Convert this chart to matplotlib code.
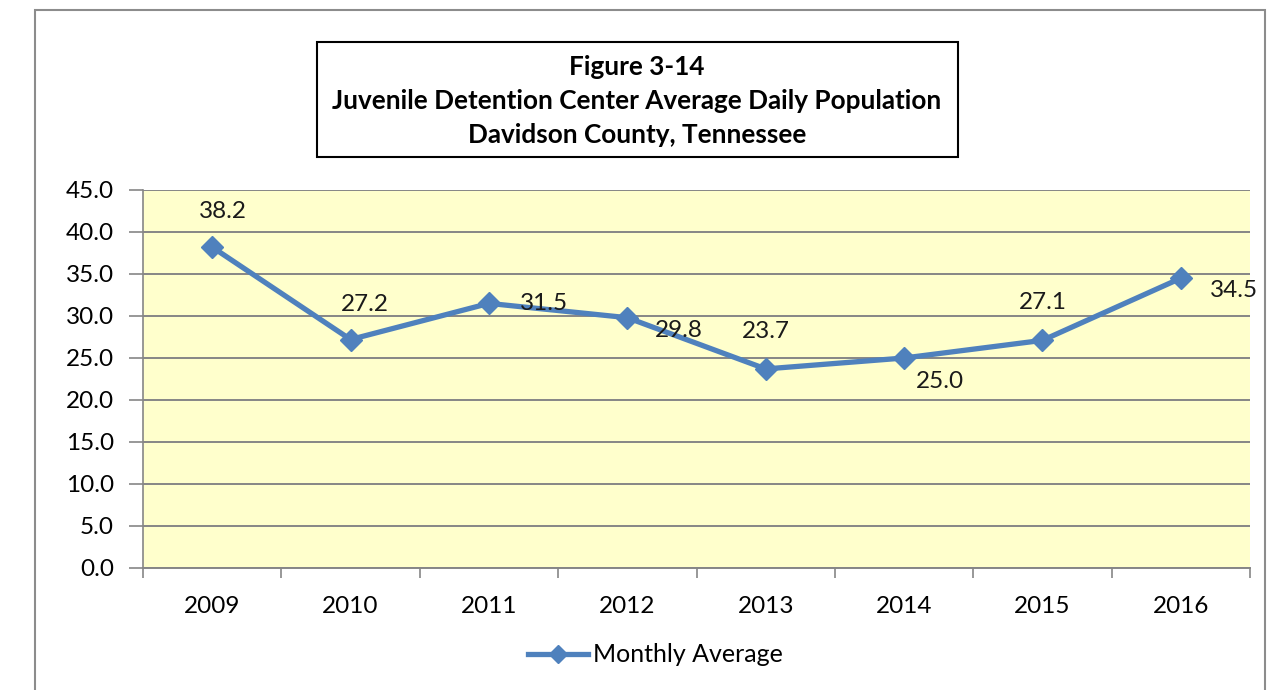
import numpy as np
import matplotlib.pyplot as plt
from matplotlib.patches import Rectangle
from matplotlib.lines import Line2D

years = ['2009', '2010', '2011', '2012', '2013', '2014', '2015', '2016']
monthly_avg = [38.2, 27.2, 31.5, 29.8, 23.7, 25.0, 27.1, 34.5]
# label offsets in points (dx, dy) for each value
label_offsets = [(8, 26), (10, 25), (40, 0), (37, -9), (0, 27), (26, -17), (0, 27), (38, -9)]

plt.rcParams['font.family'] = ['Lato', 'DejaVu Sans']

W, H = 1277, 690
fig = plt.figure(figsize=(W / 100, H / 100), dpi=100)

# outer chart frame (runs off the bottom of the page)
fig.patches.append(Rectangle((35 / W, -0.05), (1265 - 35) / W, 1 - 10 / H + 0.05,
                             transform=fig.transFigure, fill=False,
                             edgecolor='#8c8c8c', linewidth=1.5))

ax = fig.add_axes([143 / W, 1 - 568 / H, (1250 - 143) / W, (568 - 190) / H])
ax.set_facecolor('#ffffcc')

x = np.arange(len(years))
ax.plot(x, monthly_avg, color='#4f81bd', linewidth=3.8, marker='D',
        markersize=11, zorder=3, solid_capstyle='round')

for xi, v, (dx, dy) in zip(x, monthly_avg, label_offsets):
    ax.annotate(f'{v:.1f}', (xi, v), xytext=(dx, dy), textcoords='offset points',
                ha='center', va='center', fontsize=17.5, color='#1a1a1a')

ax.set_xlim(-0.5, len(years) - 0.5)
ax.set_ylim(0, 45)
ax.set_yticks(np.arange(0, 46, 5))
ax.set_yticklabels([f'{t:.1f}' for t in np.arange(0, 46, 5)])
ax.set_xticks(x)
ax.set_xticklabels(years)
ax.set_xticks(np.arange(-0.5, len(years)), minor=True)
ax.tick_params(axis='x', which='major', length=0, pad=20, labelsize=17.5)
ax.tick_params(axis='x', which='minor', length=7, width=1.2, color='#868686', direction='out')
ax.tick_params(axis='y', length=10, width=1.2, color='#868686', pad=11, labelsize=17.5)
ax.grid(axis='y', color='#868686', linewidth=1.4)
ax.set_axisbelow(True)
for side in ['top', 'right']:
    ax.spines[side].set_visible(False)
ax.spines['left'].set_color('#868686')
ax.spines['bottom'].set_color('#868686')
ax.spines['left'].set_linewidth(1.2)
ax.spines['bottom'].set_linewidth(1.4)

# title box
fig.patches.append(Rectangle((317 / W, 1 - 157 / H), (958 - 317) / W, (157 - 42) / H,
                             transform=fig.transFigure, fill=False,
                             edgecolor='black', linewidth=1.5))
title_lines = ['Figure 3-14', 'Juvenile Detention Center Average Daily Population',
               'Davidson County, Tennessee']
for i, line in enumerate(title_lines):
    fig.text(637 / W, 1 - (67 + 34 * i) / H, line, ha='center', va='center',
             fontsize=18.8, fontweight='bold')

# legend
handle = Line2D([], [], color='#4f81bd', linewidth=3.8, marker='D', markersize=9)
fig.legend([handle], ['Monthly Average'], loc='center', bbox_to_anchor=(655 / W, 1 - 655 / H),
           frameon=False, fontsize=18, handlelength=2.4, handletextpad=0.2)

fig.savefig('out.png', dpi=100)
